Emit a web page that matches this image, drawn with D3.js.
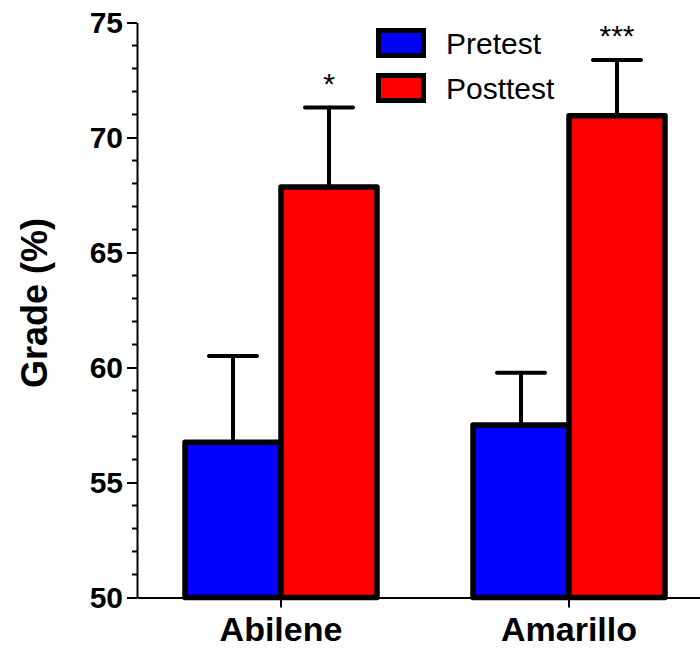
<!DOCTYPE html>
<html><head><meta charset="utf-8">
<script src="https://cdn.jsdelivr.net/npm/d3@7"></script>
<style>body{margin:0;background:#fff}svg{display:block}</style>
</head><body>
<script>
const categories = ["Abilene", "Amarillo"];
const seriesNames = ["Pretest", "Posttest"];
const pretest = [56.75, 57.5];
const posttest = [67.85, 70.95];
const pretestErr = [3.75, 2.27];
const posttestErr = [3.45, 2.42];
const significance = ["*", "***"];
const yTicks = [50, 55, 60, 65, 70, 75];
const colors = ["#0000FF", "#FF0000"];

const W = 700, H = 649;
const font = "Arial, 'Liberation Sans', sans-serif";
const svg = d3.select("body").append("svg").attr("width", W).attr("height", H);

const y = d3.scaleLinear().domain([50, 75]).range([597.5, 22.5]);
const x = d3.scaleBand().domain(categories).range([137, 713]).padding(0);
const xs = d3.scaleBand().domain(seriesNames).range([-96, 96]).padding(0);

const values = [pretest, posttest];
const errs = [pretestErr, posttestErr];
const data = [];
categories.forEach((c, i) => seriesNames.forEach((s, j) => data.push({c, s, j, v: values[j][i], e: errs[j][i]})));

// error bars (upper only)
const eb = svg.append("g").attr("stroke", "#000").attr("stroke-width", 4).attr("stroke-linecap", "round");
data.forEach(d => {
  const cx = x(d.c) + x.bandwidth() / 2 + xs(d.s) + xs.bandwidth() / 2;
  eb.append("line").attr("x1", cx).attr("x2", cx).attr("y1", y(d.v)).attr("y2", y(d.v + d.e));
  eb.append("line").attr("x1", cx - 24).attr("x2", cx + 24).attr("y1", y(d.v + d.e)).attr("y2", y(d.v + d.e));
});

// bars
svg.append("g").selectAll("rect").data(data).join("rect")
  .attr("x", d => x(d.c) + x.bandwidth() / 2 + xs(d.s))
  .attr("y", d => y(d.v))
  .attr("width", xs.bandwidth())
  .attr("height", d => y(50) - y(d.v))
  .attr("fill", d => colors[d.j])
  .attr("stroke", "#000").attr("stroke-width", 5.5).attr("stroke-linejoin", "round");

// significance marks
categories.forEach((c, i) => {
  const cx = x(c) + x.bandwidth() / 2 + xs("Posttest") + xs.bandwidth() / 2;
  svg.append("text").attr("x", cx).attr("y", y(posttest[i] + posttestErr[i]) - 14)
    .attr("text-anchor", "middle").attr("font-family", font).attr("font-size", 30)
    .text(significance[i]);
});

// y axis major
const yAxis = svg.append("g").attr("transform", "translate(137,0)")
  .call(d3.axisLeft(y).tickValues(yTicks).tickSize(10).tickPadding(4).tickSizeOuter(0));
yAxis.selectAll("text").attr("font-family", font).attr("font-size", 30).attr("font-weight", "bold").attr("fill", "#000");
yAxis.selectAll("line, path").attr("stroke", "#000").attr("stroke-width", 2);
// y axis minor
const minor = d3.range(50, 76, 1).filter(v => v % 5 !== 0);
svg.append("g").attr("transform", "translate(137,0)").selectAll("line").data(minor).join("line")
  .attr("x1", -5).attr("x2", 0).attr("y1", d => y(d)).attr("y2", d => y(d))
  .attr("stroke", "#000").attr("stroke-width", 2);

// x axis
const xAxis = svg.append("g").attr("transform", "translate(0,597.5)")
  .call(d3.axisBottom(x).tickSize(10).tickPadding(9).tickSizeOuter(0));
xAxis.selectAll("text").attr("font-family", font).attr("font-size", 34).attr("font-weight", "bold").attr("fill", "#000");
xAxis.selectAll("line, path").attr("stroke", "#000").attr("stroke-width", 2);

// y label
svg.append("text").attr("transform", "translate(47,303) rotate(-90)")
  .attr("text-anchor", "middle").attr("font-family", font).attr("font-size", 36).attr("font-weight", "bold")
  .text("Grade (%)");

// legend
const lg = svg.append("g");
seriesNames.forEach((s, j) => {
  lg.append("rect").attr("x", 378.5).attr("y", 30.5 + j * 45).attr("width", 45).attr("height", 25)
    .attr("fill", colors[j]).attr("stroke", "#000").attr("stroke-width", 5);
  lg.append("text").attr("x", 446).attr("y", 54 + j * 45).attr("font-family", font).attr("font-size", 30).text(s);
});
</script>
</body></html>
